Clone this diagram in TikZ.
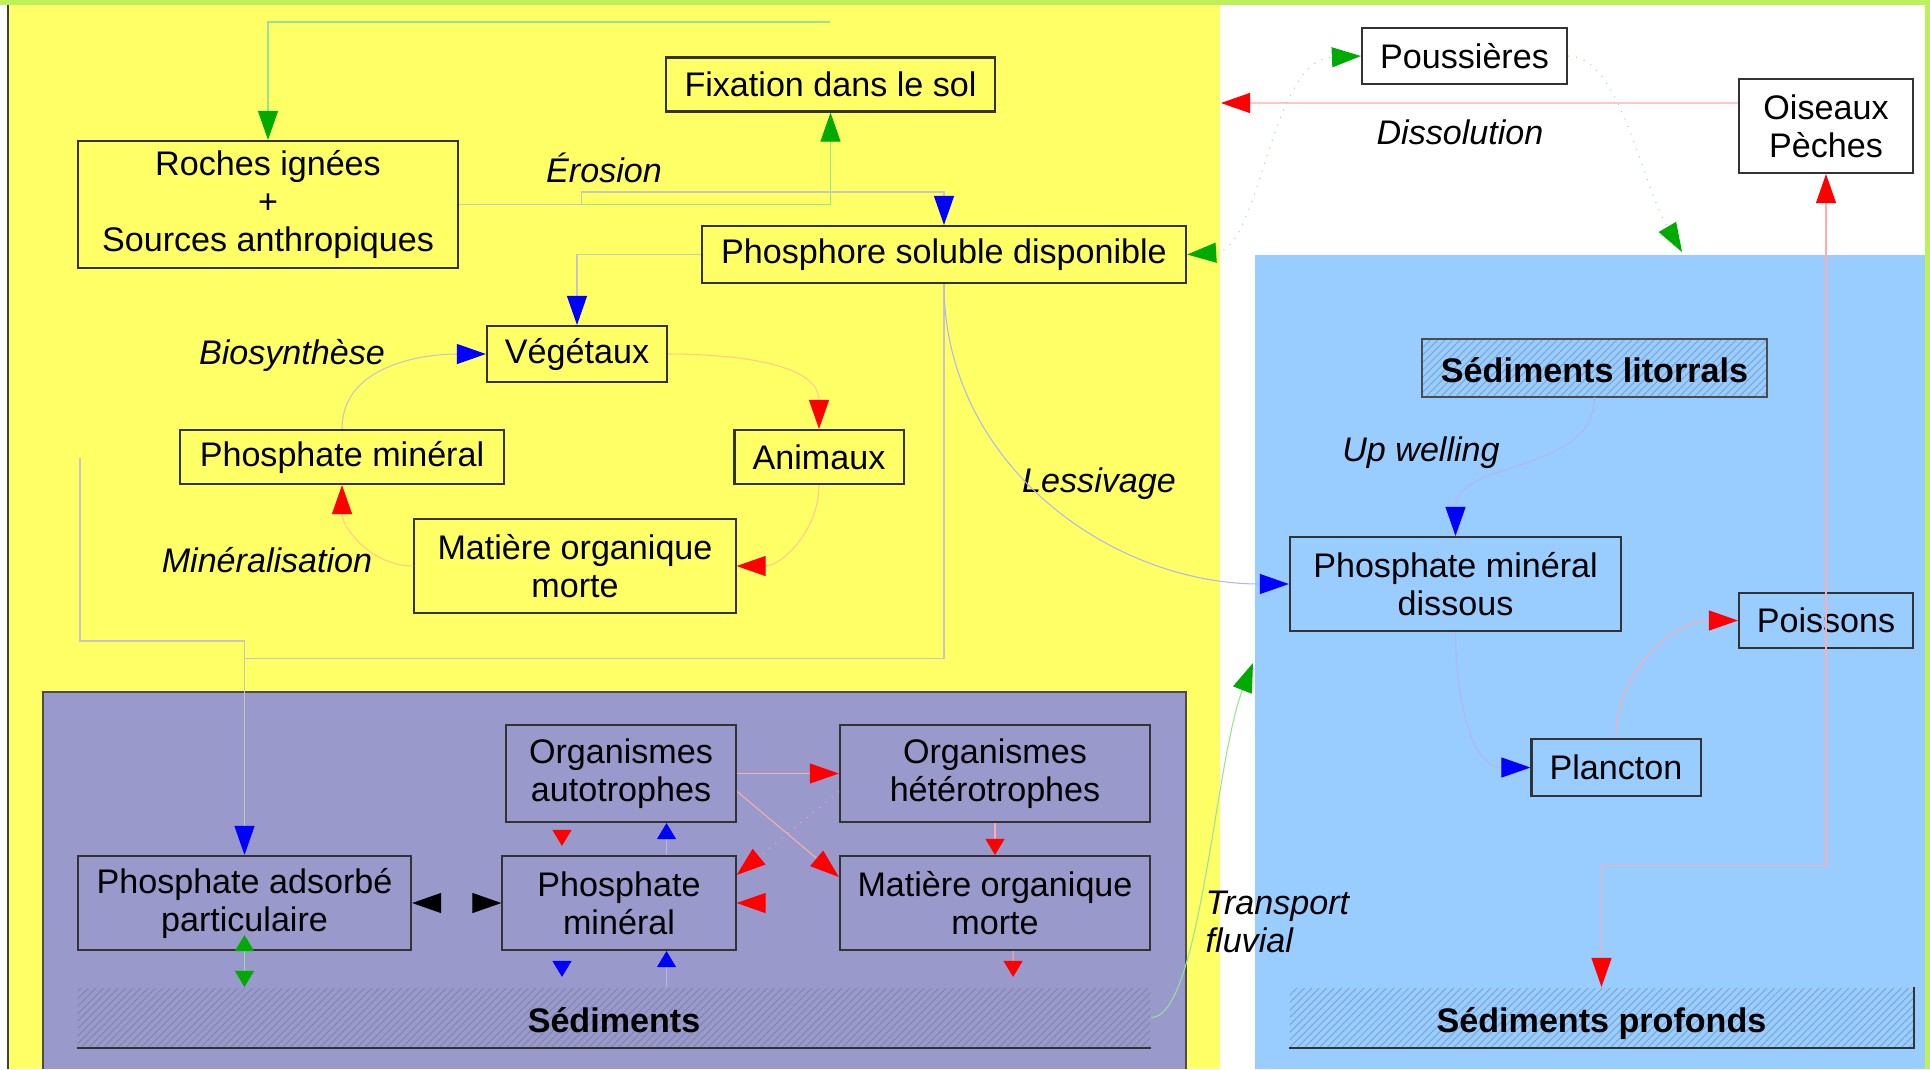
\documentclass[tikz,border=0pt]{standalone}
\usepackage{fontspec}
\setmainfont{Liberation Sans}
\usetikzlibrary{arrows.meta,calc,patterns.meta}

\definecolor{jaune}{RGB}{255,255,102}
\definecolor{mer}{RGB}{153,204,255}
\definecolor{lac}{RGB}{153,153,204}
\definecolor{bande}{RGB}{190,240,90}
\definecolor{tracegris}{RGB}{198,198,198}
\definecolor{tracebleu}{RGB}{178,182,240}
\definecolor{tracerouge}{RGB}{255,172,172}
\definecolor{traceorange}{RGB}{255,202,140}
\definecolor{tracevert}{RGB}{150,226,150}
\definecolor{vertfleche}{RGB}{0,170,0}
\newcommand{\boxfont}{\fontsize{9.7}{10.8}\selectfont}

\tikzset{
	boite/.style={draw=black!80,line width=0.6pt,align=center,inner sep=0pt,font=\boxfont},
	sedim/.style={boite,draw=none,font=\boxfont\bfseries,text height=0.29cm,text depth=0cm,
		pattern={Lines[angle=45,distance=1.5pt,line width=0.25pt]}},
	etiq/.style={font=\boxfont\itshape,inner sep=0pt},
	trait/.style={draw=#1,line width=0.3pt},
	gros/.style={-{Triangle[length=0.29cm,width=0.2cm,color=#1]}},
	petit/.style={-{Triangle[length=0.16cm,width=0.19cm,color=#1]}},
	deuxgros/.style={{Triangle[length=0.29cm,width=0.2cm,color=#1]}-{Triangle[length=0.29cm,width=0.2cm,color=#1]}},
	deuxpetit/.style={{Triangle[length=0.16cm,width=0.19cm,color=#1]}-{Triangle[length=0.16cm,width=0.19cm,color=#1]}}
}

\begin{document}
\begin{tikzpicture}[x=0.01cm,y=-0.01cm]
	\useasboundingbox (0,0) rectangle (1930,1069);
	% fonds
	\fill[white] (0,0) rectangle (1930,1069);
	\fill[jaune] (8,5) rectangle (1220,1069);
	\fill[mer] (1255,255) rectangle (1925,1069);
	\fill[bande] (0,0) rectangle (1930,5);
	\fill[bande] (1925,0) rectangle (1930,1069);
	\draw[black!75,line width=0.5pt] (8,5) -- (8,1069);
	\fill[lac] (43,692) rectangle (1186,1069);
	\draw[black!70,line width=0.5pt] (43,1069) |- (1186,692) -- (1186,1069);
	
	% continent
	\node[boite,minimum width=3.29cm,minimum height=0.54cm] (fixation) at (830.5,84.5) {Fixation dans le sol};
	\node[boite,minimum width=3.80cm,minimum height=1.27cm] (roches) at (268,204.5) {Roches ignées\\+\\Sources anthropiques};
	\node[boite,minimum width=4.84cm,minimum height=0.57cm] (phosphore) at (944,254.5) {Phosphore soluble disponible};
	\node[boite,minimum width=1.80cm,minimum height=0.56cm] (vegetaux) at (577,354) {Végétaux};
	\node[boite,minimum width=3.23cm,minimum height=0.54cm] (phosmin) at (342,457) {Phosphate minéral};
	\node[boite,minimum width=1.69cm,minimum height=0.54cm] (animaux) at (819,457) {Animaux};
	\node[boite,minimum width=3.21cm,minimum height=0.94cm] (mom) at (575,566) {Matière organique\\morte};
	
	% ocean
	\node[boite,fill=white,minimum width=2.05cm,minimum height=0.56cm] (poussieres) at (1464.5,56) {Poussières};
	\node[boite,fill=white,minimum width=1.74cm,minimum height=0.94cm] (oiseaux) at (1826,126) {Oiseaux\\Pèches};
	\node[sedim,draw=black!70,pattern color=mer!80!black,minimum width=3.45cm,minimum height=0.58cm] (litorrals) at (1594.5,368) {Sédiments litorrals};
	\node[boite,minimum width=3.31cm,minimum height=0.94cm] (dissous) at (1455.5,584) {Phosphate minéral\\dissous};
	\node[boite,minimum width=1.74cm,minimum height=0.55cm] (poissons) at (1826,620.5) {Poissons};
	\node[boite,minimum width=1.69cm,minimum height=0.57cm] (plancton) at (1616,767.5) {Plancton};
	\node[sedim,pattern color=mer!80!black,minimum width=6.23cm,minimum height=0.59cm] (sedprof) at (1601.5,1017.5) {Sédiments profonds};
	\draw[black!80,line width=0.6pt] (sedprof.south west) -- (sedprof.south east) -- (sedprof.north east);
	
	% lac
	\node[boite,minimum width=3.33cm,minimum height=0.94cm] (adsorbe) at (244.5,903) {Phosphate adsorbé\\particulaire};
	\node[boite,minimum width=2.30cm,minimum height=0.97cm] (autotrophes) at (621,773.5) {Organismes\\autotrophes};
	\node[boite,minimum width=2.33cm,minimum height=0.94cm] (phosmin2) at (619,903) {Phosphate\\minéral};
	\node[boite,minimum width=3.10cm,minimum height=0.97cm] (heterotrophes) at (995,773.5) {Organismes\\hétérotrophes};
	\node[boite,minimum width=3.10cm,minimum height=0.94cm] (mom2) at (995,903) {Matière organique\\morte};
	\node[sedim,pattern color=lac!85!black,minimum width=10.72cm,minimum height=0.59cm] (sediments) at (614,1017.5) {Sédiments};
	\draw[black!80,line width=0.6pt] (sediments.south west) -- (sediments.south east);
	
	% etiquettes
	\node[etiq] (erosion) at (604,168) {Érosion};
	\node[etiq] (dissolution) at (1460,132) {Dissolution};
	\node[etiq] (biosynthese) at (292,355) {Biosynthèse};
	\node[etiq] (mineralisation) at (267,560) {Minéralisation};
	\node[etiq] (lessivage) at (1099,484) {Lessivage};
	\node[etiq] (upwelling) at (1421,453) {Up welling};
	\node[etiq,align=left,anchor=west] (transport) at (1205,922) {Transport\\fluvial};
	
	% fleches du continent
	\coordinate (hautvert) at (830,22);
	\coordinate (bordgauche) at (80,458);
	\draw[trait=tracevert,gros=vertfleche] (hautvert) -| (roches.north);
	\draw[trait=tracevert,gros=vertfleche] (roches.east) -| (fixation.south);
	\draw[trait=tracegris,gros=blue] (roches.east) -- ++(122,0) -- ++(0,-12.5) -| (phosphore.north);
	\draw[trait=tracegris,gros=blue] (phosphore.west) -| (vegetaux.north);
	\draw[trait=tracegris] (bordgauche) -- ++(0,183) -| (adsorbe.north);
	\draw[trait=tracegris,gros=blue] (phosphore.south) -- ++(0,374) -| (adsorbe.north);
	\draw[trait=tracebleu,gros=blue] (phosphore.south) to[out=-90,in=180] (dissous.west);
	\draw[trait=tracegris,gros=blue] (phosmin.north) to[out=90,in=180] (vegetaux.west);
	\draw[trait=traceorange,gros=red] (vegetaux.east) to[out=0,in=90] (animaux.north);
	\draw[trait=traceorange,gros=red] (animaux.south) to[out=-90,in=0] (mom.east);
	\draw[trait=traceorange,gros=red] (mom.west) to[out=180,in=-90] (phosmin.south);
	
	% fleches de l'ocean
	\coordinate (finpluie) at (1221,103);
	\coordinate (finmer) at (1682,252);
	\coordinate (finfleuve) at (1253,663);
	\draw[trait=tracerouge,gros=red] ([yshift=0.23cm]oiseaux.west) -- (finpluie);
	\draw[trait=tracevert,dotted,deuxgros=vertfleche] (phosphore.east) .. controls (1260,250) and (1270,60) .. (poussieres.west);
	\draw[trait=tracevert,dotted,gros=vertfleche] (poussieres.east) .. controls (1620,56) and (1640,180) .. (finmer);
	\draw[trait=tracerouge,deuxgros=red] (sedprof.north) -- ++(0,-121) -| (oiseaux.south);
	\draw[trait=tracebleu,gros=blue] (litorrals.south) to[out=-90,in=90] (dissous.north);
	\draw[trait=tracebleu,gros=blue] (dissous.south) to[out=-90,in=180] (plancton.west);
	\draw[trait=tracerouge,gros=red] (plancton.north) to[out=90,in=180] (poissons.west);
	\draw[trait=tracevert,gros=vertfleche] (sediments.east) .. controls (1200,1017) and (1215,760) .. (finfleuve);
	
	% fleches du lac
	\draw[trait=lac,deuxgros=black] (adsorbe.east) -- (phosmin2.west);
	\draw[trait=tracevert,deuxpetit=vertfleche,shorten <=-0.16cm] (adsorbe.south) -- (adsorbe.south |- sediments.north);
	\draw[trait=lac,petit=red,shorten >=0.09cm] ([xshift=-0.59cm]autotrophes.south) -- ([xshift=-0.57cm]phosmin2.north);
	\draw[trait=tracebleu,petit=blue] ([xshift=0.475cm]phosmin2.north) -- ([xshift=0.455cm]autotrophes.south);
	\draw[trait=lac,petit=blue,shorten >=0.1cm] ([xshift=-0.57cm]phosmin2.south) -- ([xshift=-0.52cm]sediments.north);
	\draw[trait=tracebleu,petit=blue] ([xshift=0.525cm]sediments.north) -- ([xshift=0.475cm]phosmin2.south);
	\draw[trait=tracerouge,gros=red] (autotrophes.east) -- (heterotrophes.west);
	\draw[trait=tracerouge,gros=red] ([yshift=-0.18cm]autotrophes.east) -- ([yshift=0.26cm]mom2.west);
	\draw[trait=tracerouge,dotted,gros=red] ([yshift=-0.18cm]heterotrophes.west) -- ([yshift=0.28cm]phosmin2.east);
	\draw[trait=lac,gros=red] (mom2.west) -- (phosmin2.east);
	\draw[trait=tracerouge,petit=red] (heterotrophes.south) -- (mom2.north);
	\draw[trait=tracerouge,petit=red,shorten >=0.1cm] ([xshift=0.18cm]mom2.south) -- ([xshift=3.99cm]sediments.north);
\end{tikzpicture}
\end{document}
